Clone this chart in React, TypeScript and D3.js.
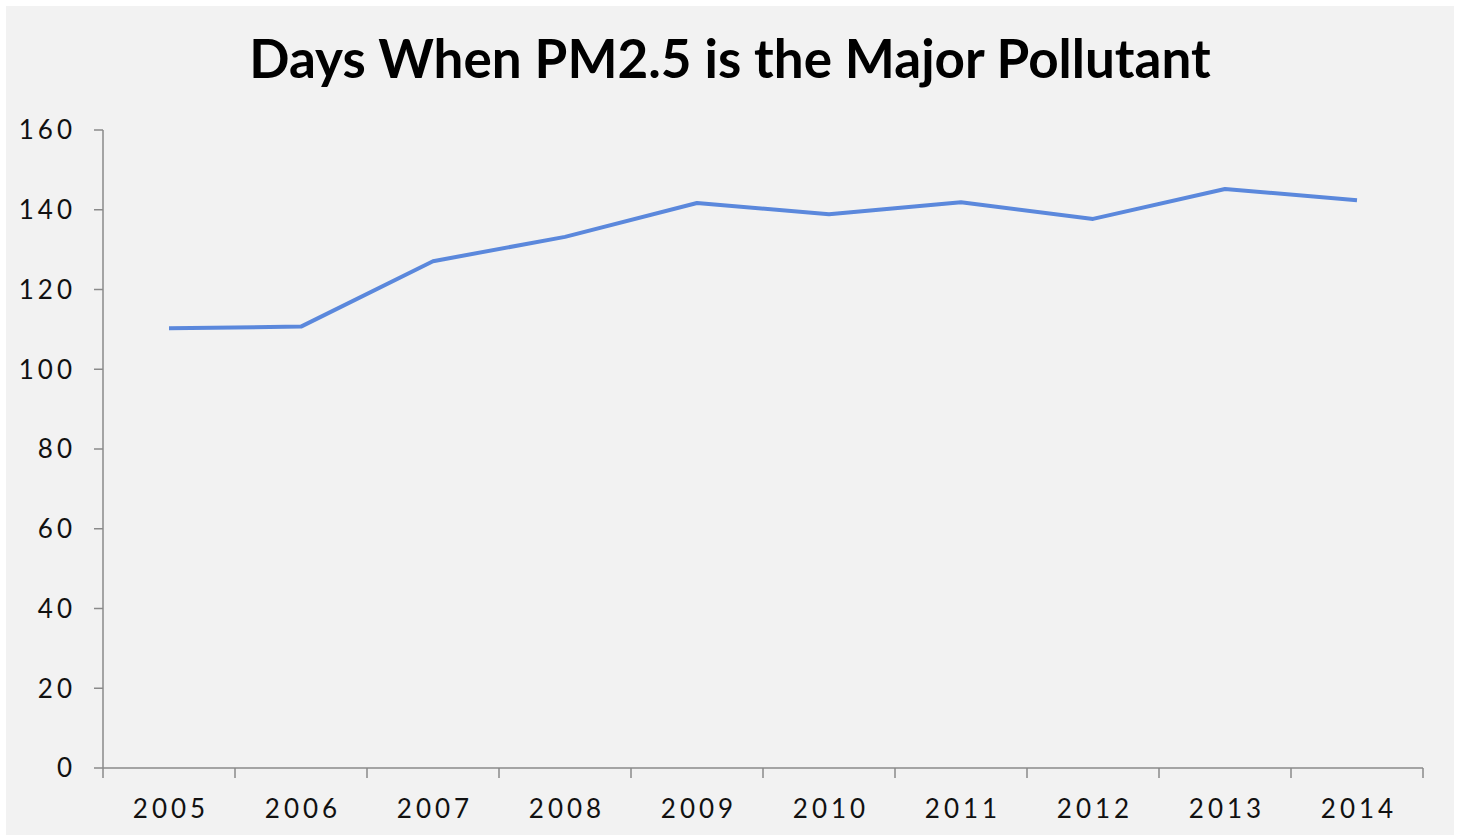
import React from "react";
import * as d3 from "d3";

const years = ["2005", "2006", "2007", "2008", "2009", "2010", "2011", "2012", "2013", "2014"];
const days = [110.3, 110.7, 127.1, 133.2, 141.7, 138.9, 141.9, 137.7, 145.2, 142.4];
const yTicks = [0, 20, 40, 60, 80, 100, 120, 140, 160];
const title = "Days When PM2.5 is the Major Pollutant";

const W = 1458;
const H = 839;
const left = 103;
const right = 1423;
const top = 130;
const bottom = 768;

export default function App() {
  const x = d3.scaleBand<string>().domain(years).range([left, right]);
  const y = d3.scaleLinear().domain([0, 160]).range([bottom, top]);
  const line = d3
    .line<number>()
    .x((_, i) => (x(years[i]) as number) + x.bandwidth() / 2)
    .y((d) => y(d));
  const xTickPos = [...years.map((yr) => x(yr) as number), right];
  const font = "Lato, 'Open Sans', sans-serif";
  const ls = 4;
  return (
    <svg
      width={W}
      height={H}
      style={{ position: "absolute", left: 0, top: 0 }}
    >
      <rect x={0} y={0} width={W} height={H} fill="#ffffff" />
      <rect x={6} y={6} width={1448} height={829} fill="#f2f2f2" />
      <text
        x={730}
        y={78}
        textAnchor="middle"
        fontFamily={font}
        fontWeight={700}
        fontSize={53}
        fill="#000"
      >
        {title}
      </text>
      {/* y axis */}
      <line x1={left} x2={left} y1={top} y2={bottom} stroke="#8a8a8a" strokeWidth={1.5} />
      {yTicks.map((t) => (
        <g key={t}>
          <line x1={left - 9} x2={left} y1={y(t)} y2={y(t)} stroke="#8a8a8a" strokeWidth={1.5} />
          <text
            x={72 + ls}
            y={y(t)}
            dy="0.36em"
            textAnchor="end"
            fontFamily={font}
            fontSize={26}
            letterSpacing={ls}
            fill="#111"
          >
            {t}
          </text>
        </g>
      ))}
      {/* x axis */}
      <line x1={left} x2={right} y1={bottom} y2={bottom} stroke="#8a8a8a" strokeWidth={1.5} />
      {xTickPos.map((p, i) => (
        <line key={i} x1={p} x2={p} y1={bottom} y2={bottom + 10} stroke="#8a8a8a" strokeWidth={1.5} />
      ))}
      {years.map((yr) => (
        <text
          key={yr}
          x={(x(yr) as number) + x.bandwidth() / 2 + ls / 2}
          y={818}
          textAnchor="middle"
          fontFamily={font}
          fontSize={26}
          letterSpacing={ls}
          fill="#111"
        >
          {yr}
        </text>
      ))}
      <path d={line(days) || ""} fill="none" stroke="#5b88dc" strokeWidth={4} strokeLinejoin="round" />
    </svg>
  );
}
